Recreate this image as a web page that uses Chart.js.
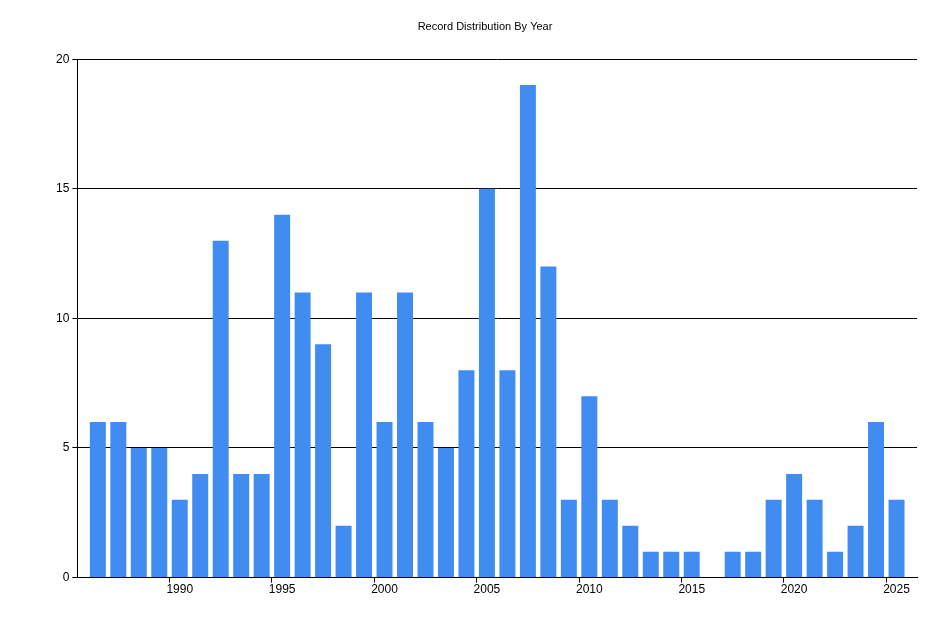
<!DOCTYPE html>
<html><head><script src="https://cdn.jsdelivr.net/npm/chart.js"></script>
<style>body{margin:0;background:#fff}#w{width:945px;height:630px}</style></head>
<body><div id="w"><canvas id="c"></canvas></div>
<script>
const years=[];for(let y=1985;y<=2026;y++)years.push(String(y));
const counts=[null,6,6,5,5,3,4,13,4,4,14,11,9,2,11,6,11,6,5,8,15,8,19,12,3,7,3,2,1,1,1,0,1,1,3,4,3,1,2,6,3,null];
const yTicks=[0,5,10,15,20];
const shown=i=>{const y=+years[i];return y%5===0&&y>=1990&&y<=2025;};
new Chart(document.getElementById('c'),{type:'bar',
data:{labels:years,datasets:[{data:counts,backgroundColor:'#418CF0',barPercentage:0.78,categoryPercentage:1}]},
options:{responsive:true,maintainAspectRatio:false,animation:false,
layout:{padding:{left:53,right:28,top:14,bottom:33}},
plugins:{legend:{display:false},title:{display:true,text:'Record Distribution By Year',color:'#000',font:{family:'Liberation Sans',size:11,weight:'normal'},padding:{top:6,bottom:26}}},
scales:{
x:{offset:false,grid:{drawOnChartArea:false,color:c=>shown(c.index)?'#000':'rgba(0,0,0,0)',tickLength:5},border:{color:'#000'},
ticks:{autoSkip:false,maxRotation:0,color:'#000',font:{family:'Liberation Sans',size:12},padding:0,callback:(v,i)=>shown(i)?years[i]:''}},
y:{min:0,max:20,afterBuildTicks:a=>{a.ticks=yTicks.map(v=>({value:v}));},grid:{color:'#000',tickLength:5},border:{color:'#000'},
ticks:{color:'#000',font:{family:'Liberation Sans',size:12}}}}}});
</script></body></html>
